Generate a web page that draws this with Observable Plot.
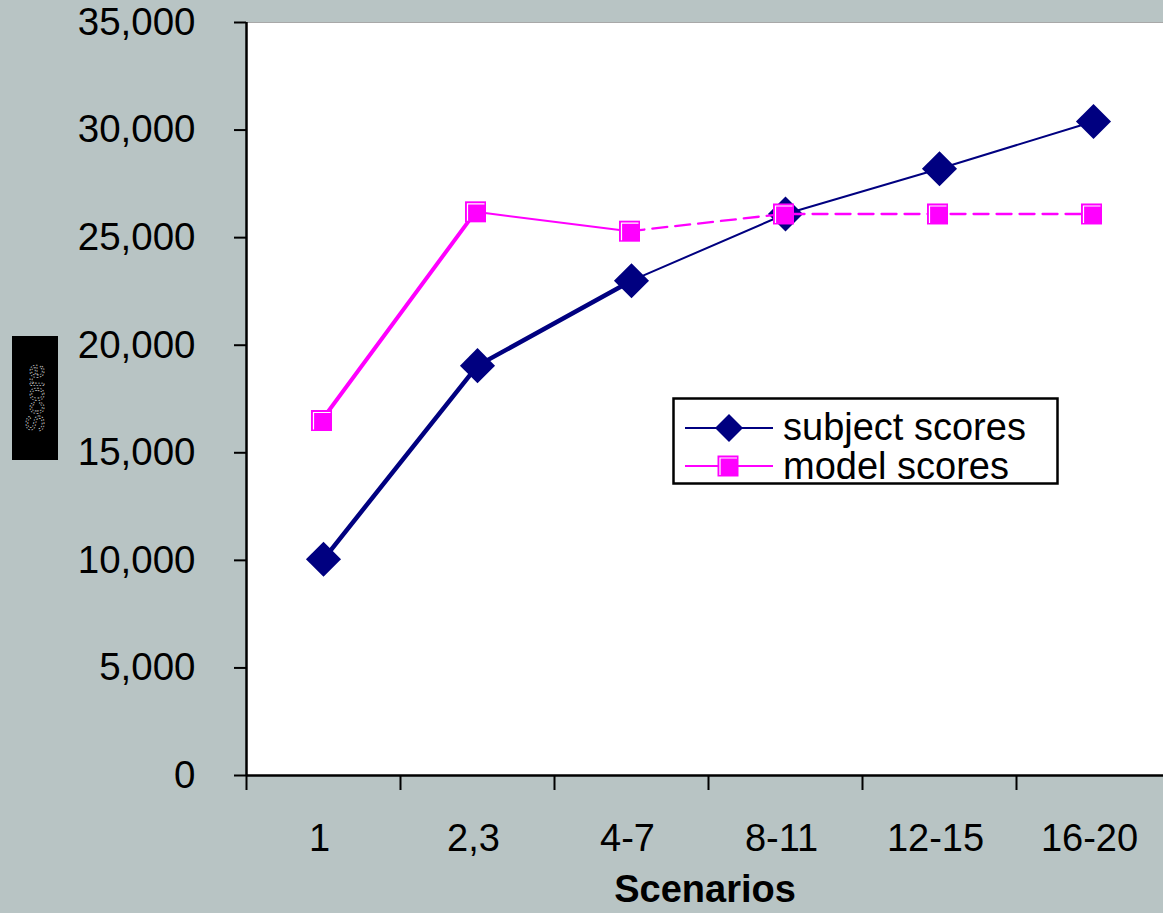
<!DOCTYPE html>
<html>
<head>
<meta charset="utf-8">
<script src="https://cdn.jsdelivr.net/npm/d3@7"></script>
<script src="https://cdn.jsdelivr.net/npm/@observablehq/plot@0.6"></script>
<style>
  html, body { margin: 0; padding: 0; background: #b8c4c4; overflow: hidden; }
  #chart { width: 1163px; height: 913px; }
</style>
</head>
<body>
<div id="chart"></div>
<script>
// Scenario groups and the two score series
const categories = ["1", "2,3", "4-7", "8-11", "12-15", "16-20"];
const subjectScores = [10050, 19050, 23000, 26100, 28200, 30400];
const modelScores = [16500, 26200, 25300, 26100, 26100, 26100];
const yTicks = [0, 5000, 10000, 15000, 20000, 25000, 30000, 35000];

const NAVY = "#000080";
const MAGENTA = "#ff00ff";
const FONT = "'Liberation Sans', Arial, Helvetica, sans-serif";

const rows = categories.map((c, i) => ({
  i,
  pos: i + 0.5,
  subject: subjectScores[i],
  model: modelScores[i]
}));
const boundaries = d3.range(categories.length + 1);

// white bevel highlight drawn on top of each square marker
const bevel = {
  draw(ctx, size) {
    const w = Math.sqrt(size);
    const a = -w / 2 + 2.5;
    const b = w / 2 - 1.5;
    ctx.moveTo(a, b);
    ctx.lineTo(a, a);
    ctx.lineTo(b, a);
  }
};

const W = 1163, H = 913;
const plot = Plot.plot({
  width: W,
  height: H,
  marginLeft: 246,
  marginRight: 0,
  marginTop: 22,
  marginBottom: 138,
  style: { background: "#b8c4c4", fontFamily: FONT, fontSize: "38px", color: "black", overflow: "hidden" },
  x: { type: "linear", domain: [0, categories.length], range: [246, 1170] },
  y: { domain: [0, 35000], range: [775, 22] },
  marks: [
    // plot area
    Plot.rect([0], { x1: 0, x2: categories.length, y1: 0, y2: 35000, fill: "white" }),
    Plot.ruleY([35000], { stroke: "#a8a8a8", strokeWidth: 1 }),

    // subject scores: heavy for the first two segments, then light
    Plot.line(rows.slice(0, 3), { x: "pos", y: "subject", stroke: NAVY, strokeWidth: 4.5 }),
    Plot.line(rows.slice(2), { x: "pos", y: "subject", stroke: NAVY, strokeWidth: 2 }),
    Plot.dot(rows, { x: "pos", y: "subject", symbol: "diamond2", r: 15.8, fill: NAVY, stroke: "none" }),

    // model scores: heavy, light, then dashed
    Plot.line(rows.slice(0, 2), { x: "pos", y: "model", dx: -2, stroke: MAGENTA, strokeWidth: 4 }),
    Plot.line(rows.slice(1, 3), { x: "pos", y: "model", dx: -2, stroke: MAGENTA, strokeWidth: 2 }),
    Plot.line(rows.slice(2), { x: "pos", y: "model", dx: -2, stroke: MAGENTA, strokeWidth: 2.3, strokeDasharray: "15,8" }),
    Plot.dot(rows, { x: "pos", y: "model", dx: -2, symbol: "square", r: 11.85, fill: MAGENTA, stroke: "none" }),
    Plot.dot(rows, { x: "pos", y: "model", dx: -2, symbol: bevel, r: 11.85, fill: "none", stroke: "white", strokeWidth: 1.2 }),

    // axes
    Plot.ruleX([0], { stroke: "black", strokeWidth: 2.5 }),
    Plot.ruleY([0], { stroke: "black", strokeWidth: 2.5 }),
    Plot.axisY({
      ticks: yTicks, tickFormat: d3.format(","), tickSize: 12, tickPadding: 39,
      strokeWidth: 2, fontSize: 38.5, label: null
    }),
    Plot.axisX({ ticks: boundaries, tickSize: 15, strokeWidth: 2, tickFormat: () => "", label: null }),
    Plot.axisX({
      ticks: rows.map(d => d.pos), tickFormat: v => categories[Math.round(v - 0.5)],
      tickSize: 0, tickPadding: 49, dx: -4, fontSize: 38, label: null
    }),
    Plot.text(["Scenarios"], { text: d => d, frameAnchor: "bottom", dy: 126, fontSize: 38, fontWeight: "bold", fill: "black" })
  ]
});

document.getElementById("chart").appendChild(plot);

const svg = d3.select(plot);

// y axis title block
const yTitle = svg.append("g");
yTitle.append("rect").attr("x", 12).attr("y", 336).attr("width", 46).attr("height", 124).attr("fill", "black");
yTitle.append("text")
  .attr("transform", "translate(35,398) rotate(-90)")
  .attr("text-anchor", "middle")
  .attr("dy", "0.35em")
  .attr("font-family", FONT)
  .attr("font-size", 26)
  .attr("fill", "none")
  .attr("stroke", "#c8c8c8")
  .attr("stroke-width", 0.8)
  .attr("stroke-dasharray", "1.5,1.5")
  .text("Score");

// legend
const lg = svg.append("g").attr("font-family", FONT).attr("font-size", 38).attr("text-anchor", "start");
lg.append("rect").attr("x", 673.5).attr("y", 398.5).attr("width", 384).attr("height", 85)
  .attr("fill", "white").attr("stroke", "black").attr("stroke-width", 2.5);

lg.append("line").attr("x1", 685).attr("x2", 773).attr("y1", 428).attr("y2", 428)
  .attr("stroke", NAVY).attr("stroke-width", 2);
lg.append("path").attr("transform", "translate(729,428)")
  .attr("d", d3.symbol(d3.symbolDiamond2, Math.pow(14 / 0.62625, 2))())
  .attr("fill", NAVY);
lg.append("text").attr("x", 783).attr("y", 440).attr("fill", "black").attr("text-anchor", "start").text("subject scores");

lg.append("line").attr("x1", 685).attr("x2", 773).attr("y1", 466).attr("y2", 466)
  .attr("stroke", MAGENTA).attr("stroke-width", 2);
lg.append("path").attr("transform", "translate(728,466)")
  .attr("d", d3.symbol(d3.symbolSquare, 21 * 21)())
  .attr("fill", MAGENTA);
lg.append("path").attr("transform", "translate(728,466)")
  .attr("d", d3.symbol(bevel, 21 * 21)())
  .attr("fill", "none").attr("stroke", "white").attr("stroke-width", 1.2);
lg.append("text").attr("x", 783).attr("y", 479).attr("fill", "black").attr("text-anchor", "start").text("model scores");
</script>
</body>
</html>
